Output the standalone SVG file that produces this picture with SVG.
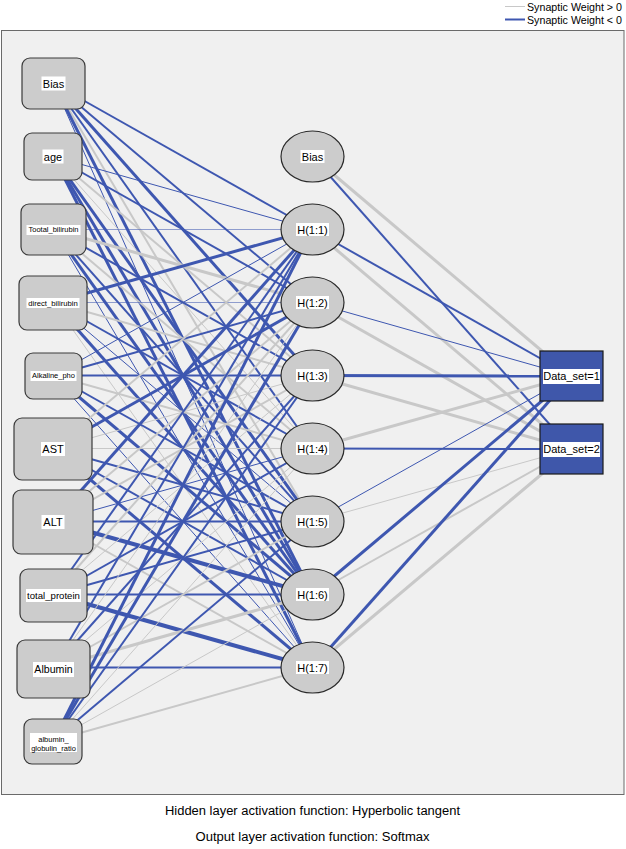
<svg xmlns="http://www.w3.org/2000/svg" width="626" height="849" viewBox="0 0 626 849">
<style>
text{font-family:"Liberation Sans",Arial,sans-serif;fill:#000}
.p{stroke:#c8c8c8;fill:none}
.n{stroke:#3e57b0;fill:none}
.lt{stroke-opacity:.55}
.w1{stroke-width:1}
.w2{stroke-width:2}
.w3{stroke-width:3}
.w4{stroke-width:4}
.in{fill:#cccccc;stroke:#3a3a3a;stroke-width:1.2}
.hid{fill:#cccccc;stroke:#2a2a2a;stroke-width:1.2}
.out{fill:#3f57aa;stroke:#1a1a1a;stroke-width:1.2}
.lb{fill:#ffffff}
.c{text-anchor:middle}
</style>
<rect x="0" y="0" width="626" height="849" fill="#ffffff"/>
<rect x="1.5" y="30.5" width="622.5" height="764" fill="#f0f0f0" stroke="#6a6a6a" stroke-width="1"/>
<g id="legend">
<line x1="505" y1="6.5" x2="525" y2="6.5" class="p w1"/>
<line x1="505" y1="19.5" x2="525" y2="19.5" class="n w2"/>
<text x="527" y="10.5" font-size="11" textLength="95" lengthAdjust="spacingAndGlyphs">Synaptic Weight &gt; 0</text>
<text x="527" y="23.5" font-size="11" textLength="95" lengthAdjust="spacingAndGlyphs">Synaptic Weight &lt; 0</text>
</g>
<g id="connectors">
<!-- input Bias -->
<line x1="53.5" y1="83.5" x2="312.5" y2="229.5" class="n w2"/>
<line x1="53.5" y1="83.5" x2="312.5" y2="302.5" class="n w2"/>
<line x1="53.5" y1="83.5" x2="312.5" y2="375.5" class="n w3"/>
<line x1="53.5" y1="83.5" x2="312.5" y2="448.5" class="n w2"/>
<line x1="53.5" y1="83.5" x2="312.5" y2="521.5" class="p w2"/>
<line x1="53.5" y1="83.5" x2="312.5" y2="594.5" class="n w3"/>
<line x1="53.5" y1="83.5" x2="312.5" y2="667.5" class="n w1"/>
<!-- age -->
<line x1="53.5" y1="156.5" x2="312.5" y2="229.5" class="n w1"/>
<line x1="53.5" y1="156.5" x2="312.5" y2="302.5" class="n w2"/>
<line x1="53.5" y1="156.5" x2="312.5" y2="375.5" class="p w2"/>
<line x1="53.5" y1="156.5" x2="312.5" y2="448.5" class="p w1"/>
<line x1="53.5" y1="156.5" x2="312.5" y2="521.5" class="n w3"/>
<line x1="53.5" y1="156.5" x2="312.5" y2="594.5" class="n w3"/>
<line x1="53.5" y1="156.5" x2="312.5" y2="667.5" class="n w3"/>
<!-- Tootal_bilirubin -->
<line x1="53.5" y1="229.5" x2="312.5" y2="229.5" class="n w1 lt"/>
<line x1="53.5" y1="229.5" x2="312.5" y2="302.5" class="p w3"/>
<line x1="53.5" y1="229.5" x2="312.5" y2="375.5" class="n w2"/>
<line x1="53.5" y1="229.5" x2="312.5" y2="448.5" class="p w2"/>
<line x1="53.5" y1="229.5" x2="312.5" y2="521.5" class="n w2"/>
<line x1="53.5" y1="229.5" x2="312.5" y2="594.5" class="n w3"/>
<line x1="53.5" y1="229.5" x2="312.5" y2="667.5" class="n w1"/>
<!-- direct_bilirubin -->
<line x1="53.5" y1="302.5" x2="312.5" y2="229.5" class="n w3"/>
<line x1="53.5" y1="302.5" x2="312.5" y2="302.5" class="n w1 lt"/>
<line x1="53.5" y1="302.5" x2="312.5" y2="375.5" class="p w2"/>
<line x1="53.5" y1="302.5" x2="312.5" y2="448.5" class="n w2"/>
<line x1="53.5" y1="302.5" x2="312.5" y2="521.5" class="n w1"/>
<line x1="53.5" y1="302.5" x2="312.5" y2="594.5" class="n w3"/>
<line x1="53.5" y1="302.5" x2="312.5" y2="667.5" class="p w1"/>
<!-- Alkaline_pho -->
<line x1="53.5" y1="375.5" x2="312.5" y2="229.5" class="n w1"/>
<line x1="53.5" y1="375.5" x2="312.5" y2="302.5" class="n w2"/>
<line x1="53.5" y1="375.5" x2="312.5" y2="375.5" class="n w2"/>
<line x1="53.5" y1="375.5" x2="312.5" y2="448.5" class="p w2"/>
<line x1="53.5" y1="375.5" x2="312.5" y2="521.5" class="n w2"/>
<line x1="53.5" y1="375.5" x2="312.5" y2="594.5" class="n w3"/>
<line x1="53.5" y1="375.5" x2="312.5" y2="667.5" class="n w1"/>
<!-- AST -->
<line x1="53.5" y1="448.5" x2="312.5" y2="229.5" class="p w2"/>
<line x1="53.5" y1="448.5" x2="312.5" y2="302.5" class="n w3"/>
<line x1="53.5" y1="448.5" x2="312.5" y2="375.5" class="p w1"/>
<line x1="53.5" y1="448.5" x2="312.5" y2="448.5" class="p w1"/>
<line x1="53.5" y1="448.5" x2="312.5" y2="521.5" class="n w2"/>
<line x1="53.5" y1="448.5" x2="312.5" y2="594.5" class="n w2"/>
<line x1="53.5" y1="448.5" x2="312.5" y2="667.5" class="n w3"/>
<!-- ALT -->
<line x1="53.5" y1="521.5" x2="312.5" y2="229.5" class="n w3"/>
<line x1="53.5" y1="521.5" x2="312.5" y2="302.5" class="p w2"/>
<line x1="53.5" y1="521.5" x2="312.5" y2="375.5" class="p w2"/>
<line x1="53.5" y1="521.5" x2="312.5" y2="448.5" class="n w1"/>
<line x1="53.5" y1="521.5" x2="312.5" y2="521.5" class="n w2"/>
<line x1="53.5" y1="521.5" x2="312.5" y2="594.5" class="n w4"/>
<line x1="53.5" y1="521.5" x2="312.5" y2="667.5" class="p w2"/>
<!-- total_protein -->
<line x1="53.5" y1="594.5" x2="312.5" y2="229.5" class="n w2"/>
<line x1="53.5" y1="594.5" x2="312.5" y2="302.5" class="p w2"/>
<line x1="53.5" y1="594.5" x2="312.5" y2="375.5" class="p w1"/>
<line x1="53.5" y1="594.5" x2="312.5" y2="448.5" class="n w2"/>
<line x1="53.5" y1="594.5" x2="312.5" y2="521.5" class="n w2"/>
<line x1="53.5" y1="594.5" x2="312.5" y2="594.5" class="n w2"/>
<line x1="53.5" y1="594.5" x2="312.5" y2="667.5" class="n w4"/>
<!-- Albumin -->
<line x1="53.5" y1="667.5" x2="312.5" y2="229.5" class="n w2"/>
<line x1="53.5" y1="667.5" x2="312.5" y2="302.5" class="p w1"/>
<line x1="53.5" y1="667.5" x2="312.5" y2="375.5" class="n w2"/>
<line x1="53.5" y1="667.5" x2="312.5" y2="448.5" class="p w1"/>
<line x1="53.5" y1="667.5" x2="312.5" y2="521.5" class="p w2"/>
<line x1="53.5" y1="667.5" x2="312.5" y2="594.5" class="p w3"/>
<line x1="53.5" y1="667.5" x2="312.5" y2="667.5" class="n w2"/>
<!-- albumin_globulin_ratio -->
<line x1="53.5" y1="740.5" x2="312.5" y2="229.5" class="n w3"/>
<line x1="53.5" y1="740.5" x2="312.5" y2="302.5" class="n w3"/>
<line x1="53.5" y1="740.5" x2="312.5" y2="375.5" class="n w2"/>
<line x1="53.5" y1="740.5" x2="312.5" y2="448.5" class="p w1"/>
<line x1="53.5" y1="740.5" x2="312.5" y2="521.5" class="n w2"/>
<line x1="53.5" y1="740.5" x2="312.5" y2="594.5" class="p w1"/>
<line x1="53.5" y1="740.5" x2="312.5" y2="667.5" class="p w2"/>
<!-- hidden to output -->
<line x1="312.5" y1="156.5" x2="571.5" y2="376" class="p w3"/>
<line x1="312.5" y1="156.5" x2="571.5" y2="449" class="n w2"/>
<line x1="312.5" y1="229.5" x2="571.5" y2="376" class="n w2"/>
<line x1="312.5" y1="229.5" x2="571.5" y2="449" class="p w3"/>
<line x1="312.5" y1="302.5" x2="571.5" y2="376" class="n w1"/>
<line x1="312.5" y1="302.5" x2="571.5" y2="449" class="p w3"/>
<line x1="312.5" y1="375.5" x2="571.5" y2="376" class="n w3"/>
<line x1="312.5" y1="375.5" x2="571.5" y2="449" class="p w3"/>
<line x1="312.5" y1="448.5" x2="571.5" y2="376" class="p w3"/>
<line x1="312.5" y1="448.5" x2="571.5" y2="449" class="n w2"/>
<line x1="312.5" y1="521.5" x2="571.5" y2="376" class="n w1"/>
<line x1="312.5" y1="521.5" x2="571.5" y2="449" class="p w1"/>
<line x1="312.5" y1="594.5" x2="571.5" y2="376" class="n w3"/>
<line x1="312.5" y1="594.5" x2="571.5" y2="449" class="p w2"/>
<line x1="312.5" y1="667.5" x2="571.5" y2="376" class="n w3"/>
<line x1="312.5" y1="667.5" x2="571.5" y2="449" class="p w3"/>
</g>
<g id="in_bias"><rect x="22" y="58" width="63" height="51" rx="8" class="in"/><rect x="41.5" y="76.5" width="24" height="14" class="lb"/><text x="53.5" y="87.5" font-size="11" class="c">Bias</text></g>
<g id="in_age"><rect x="24" y="133" width="58" height="47" rx="8" class="in"/><rect x="42.5" y="149.5" width="21" height="14" class="lb"/><text x="53" y="160.5" font-size="11" class="c">age</text></g>
<g id="in_tootal_bilirubin"><rect x="21" y="204" width="65" height="51" rx="8" class="in"/><rect x="26.5" y="225" width="54" height="10" class="lb"/><text x="53.5" y="232.3" font-size="7.5" class="c">Tootal_bilirubin</text></g>
<g id="in_direct_bilirubin"><rect x="19" y="276" width="68" height="54" rx="8" class="in"/><rect x="26.5" y="298" width="53" height="10" class="lb"/><text x="53" y="305.5" font-size="7.7" class="c">direct_bilirubin</text></g>
<g id="in_alkaline_pho"><rect x="25" y="353" width="57" height="46" rx="8" class="in"/><rect x="30.5" y="371" width="46" height="10" class="lb"/><text x="53.5" y="378.3" font-size="7.5" class="c">Alkaline_pho</text></g>
<g id="in_ast"><rect x="14" y="418" width="78" height="62" rx="8" class="in"/><rect x="41" y="442" width="24" height="14" class="lb"/><text x="53" y="453" font-size="11" class="c">AST</text></g>
<g id="in_alt"><rect x="13" y="490" width="80" height="64" rx="8" class="in"/><rect x="41.5" y="515" width="23" height="14" class="lb"/><text x="53" y="526" font-size="11" class="c">ALT</text></g>
<g id="in_total_protein"><rect x="20" y="569" width="67" height="53" rx="8" class="in"/><rect x="26" y="589" width="55" height="13" class="lb"/><text x="53.5" y="598.8" font-size="9.6" class="c">total_protein</text></g>
<g id="in_albumin"><rect x="17" y="640" width="73" height="58" rx="8" class="in"/><rect x="33" y="662" width="41" height="15" class="lb"/><text x="53.5" y="673" font-size="10.6" class="c">Albumin</text></g>
<g id="in_albumin_globulin_ratio"><rect x="24" y="719" width="58" height="45" rx="8" class="in"/><rect x="30" y="733" width="47" height="19" class="lb"/><text x="53.5" y="741.5" font-size="7.5" class="c">albumin_</text><text x="53.5" y="750.5" font-size="7.5" class="c">globulin_ratio</text></g>
<g id="h_bias"><ellipse cx="312.5" cy="156.5" rx="31.5" ry="25.5" class="hid"/><rect x="300.5" y="150" width="24" height="13" class="lb"/><text x="312.5" y="160.5" font-size="11" class="c">Bias</text></g>
<g id="h1"><ellipse cx="312.5" cy="229.5" rx="31.5" ry="25.5" class="hid"/><rect x="296" y="223" width="33" height="13" class="lb"/><text x="312.5" y="233.5" font-size="11" class="c">H(1:1)</text></g>
<g id="h2"><ellipse cx="312.5" cy="302.5" rx="31.5" ry="25.5" class="hid"/><rect x="296" y="296" width="33" height="13" class="lb"/><text x="312.5" y="306.5" font-size="11" class="c">H(1:2)</text></g>
<g id="h3"><ellipse cx="312.5" cy="375.5" rx="31.5" ry="25.5" class="hid"/><rect x="296" y="369" width="33" height="13" class="lb"/><text x="312.5" y="379.5" font-size="11" class="c">H(1:3)</text></g>
<g id="h4"><ellipse cx="312.5" cy="448.5" rx="31.5" ry="25.5" class="hid"/><rect x="296" y="442" width="33" height="13" class="lb"/><text x="312.5" y="452.5" font-size="11" class="c">H(1:4)</text></g>
<g id="h5"><ellipse cx="312.5" cy="521.5" rx="31.5" ry="25.5" class="hid"/><rect x="296" y="515" width="33" height="13" class="lb"/><text x="312.5" y="525.5" font-size="11" class="c">H(1:5)</text></g>
<g id="h6"><ellipse cx="312.5" cy="594.5" rx="31.5" ry="25.5" class="hid"/><rect x="296" y="588" width="33" height="13" class="lb"/><text x="312.5" y="598.5" font-size="11" class="c">H(1:6)</text></g>
<g id="h7"><ellipse cx="312.5" cy="667.5" rx="31.5" ry="25.5" class="hid"/><rect x="296" y="661" width="33" height="13" class="lb"/><text x="312.5" y="671.5" font-size="11" class="c">H(1:7)</text></g>
<g id="out1"><rect x="540" y="351" width="63" height="50" class="out"/><rect x="543" y="369" width="57" height="15" class="lb"/><text x="571.5" y="380" font-size="11" class="c">Data_set=1</text></g>
<g id="out2"><rect x="540" y="424" width="63" height="50" class="out"/><rect x="543" y="442" width="57" height="15" class="lb"/><text x="571.5" y="453" font-size="11" class="c">Data_set=2</text></g>
<g id="footer">
<text x="312.5" y="815" font-size="12.5" class="c" textLength="295" lengthAdjust="spacingAndGlyphs">Hidden layer activation function: Hyperbolic tangent</text>
<text x="312.5" y="841" font-size="12.5" class="c" textLength="234" lengthAdjust="spacingAndGlyphs">Output layer activation function: Softmax</text>
</g>
</svg>
